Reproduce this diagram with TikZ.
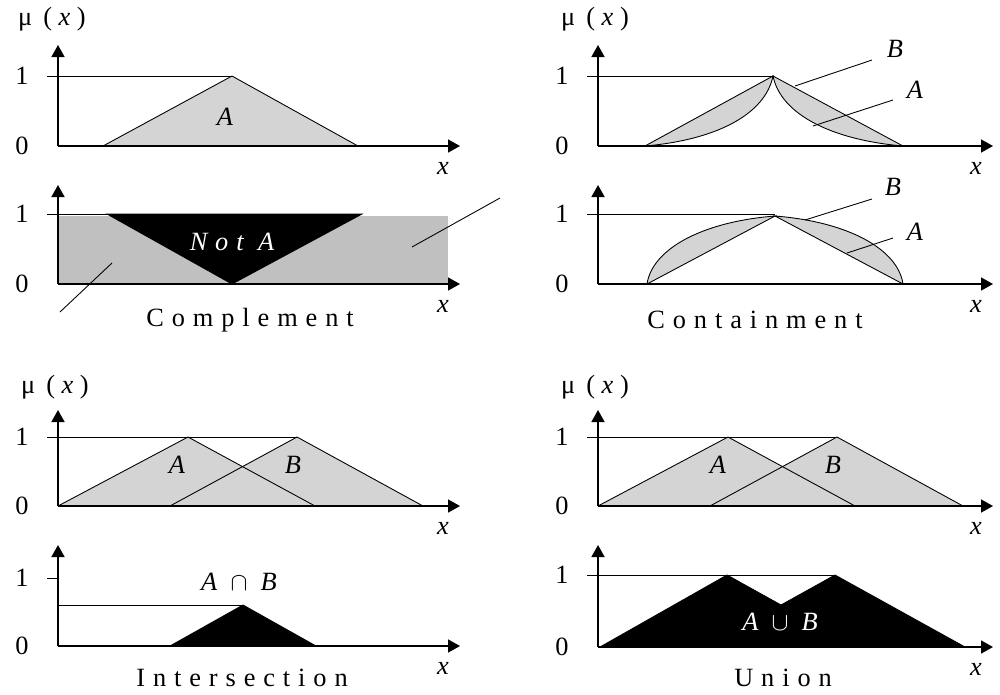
\documentclass[tikz,border=0pt]{standalone}
\usepackage{fontspec}
\setmainfont{Liberation Serif}
\newfontfamily\spacedfont[LetterSpace=30]{Liberation Serif}
\usepackage{tikz}
\usetikzlibrary{arrows.meta}
\usepackage{xcolor}
\definecolor{setgrey}  {RGB}{212,212,212}
\definecolor{compgrey} {RGB}{192,192,192}
\tikzset{
  axis/.style        = {-{Triangle[length=2.4mm, width=2.6mm]}, line width=0.9pt},
  level line/.style  = {line width=0.5pt},
  set edge/.style    = {line width=0.5pt},
  set area/.style    = {fill=setgrey},
  result area/.style = {fill=black, draw=black, line width=0.5pt},
  pointer/.style     = {line width=0.5pt},
  tick label/.style  = {font=\fontsize{15}{17}\selectfont},
  set label/.style   = {font=\fontsize{15}{17}\selectfont\itshape},
  mu label/.style    = {font=\fontsize{15}{17}\selectfont},
  caption/.style     = {font=\fontsize{15}{17}\spacedfont},
}

\begin{document}
\begin{tikzpicture}[x=0.02cm, y=-0.02cm, font=\fontsize{15}{17}\selectfont]

  \useasboundingbox (0,0) rectangle (1000,694);

  % ── shaded sets (drawn first, axes go on top) ─────────────────────────────
  % panel 1: fuzzy set A
  \fill[set area] (103,146) -- (232,76) -- (358,146) -- cycle;
  \draw[set edge] (103,146) -- (232,76) -- (358,146);

  % panel 2: complement
  \fill[compgrey] (58,216) rectangle (448,284);
  \fill[result area] (107,214) -- (362,214) -- (232,284) -- cycle;

  % panel 3: containment, A inside B
  \filldraw[set area, set edge] (645,146) -- (773,76)
    .. controls (765,115) and (715,140) .. (645,146) -- cycle;
  \filldraw[set area, set edge] (773,76) -- (903,146)
    .. controls (833,140) and (781,115) .. (773,76) -- cycle;

  % panel 4: containment, B bulging over A
  \filldraw[set area, set edge] (647,284) -- (775,216)
    .. controls (700,222) and (652,250) .. (647,284) -- cycle;
  \filldraw[set area, set edge] (775,216) -- (903,284)
    .. controls (898,250) and (850,222) .. (775,216) -- cycle;

  % panels 5 and 7: two overlapping triangles
  \foreach \dx/\yz/\yo in {0/506/437, 540/506/437}{
    \fill[set area] (58+\dx,\yz) -- (188+\dx,\yo) -- (315+\dx,\yz) -- cycle;
    \fill[set area] (170+\dx,\yz) -- (297+\dx,\yo) -- (423+\dx,\yz) -- cycle;
    \draw[set edge] (58+\dx,\yz) -- (188+\dx,\yo) -- (315+\dx,\yz);
    \draw[set edge] (170+\dx,\yz) -- (297+\dx,\yo) -- (423+\dx,\yz);
  }

  % panel 6: intersection
  \fill[result area] (170,646) -- (243,605) -- (316,646) -- cycle;

  % panel 8: union
  \fill[result area] (600,647) -- (727,575) -- (781,605) -- (835,575)
    -- (965,647) -- cycle;

  % ── axes for all eight panels ─────────────────────────────────────────────
  \foreach \ox/\yzero/\yone/\ytop/\xend/\id in
      {58/146/76/45/460/1,   58/284/214/185/460/2,
       598/146/76/45/993/3,  598/284/214/185/993/4,
       58/506/437/410/460/5, 58/646/578/545/460/6,
       598/506/437/410/993/7, 598/647/575/545/993/8}{
    \draw[axis] (\ox,\yzero) -- (\ox,\ytop);
    \draw[axis] (\ox,\yzero) -- (\xend,\yzero);
    \node[tick label] (zero\id) at (\ox-36,\yzero) {0};
    \node[tick label] (one\id)  at (\ox-36,\yone)  {1};
    \node[set label]  (xlab\id) at (\xend-17,\yzero+22) {x};
  }

  % μ(x) over the upper axis of each pair
  \foreach \mx/\my/\id in {52/19/1, 595/19/3, 55/387/5, 595/387/7}{
    \node[mu label] (mu\id) at (\mx,\my) {μ\, ( \textit{x} )};
  }

  % ── level-one lines ───────────────────────────────────────────────────────
  \draw[level line] (47,76)  -- (232,76);
  \draw[level line] (47,214) -- (362,214);
  \draw[level line] (587,76) -- (773,76);
  \draw[level line] (587,214) -- (775,214);
  \draw[level line] (47,437) -- (297,437);
  \draw[level line] (47,578) -- (58,578);
  \draw[level line] (58,605) -- (243,605);
  \draw[level line] (587,437) -- (835,437);
  \draw[level line] (587,575) -- (835,575);

  % ── set labels ────────────────────────────────────────────────────────────
  \node[set label] (setA1) at (225,117) {A};
  \node[set label] (setA5) at (177,465) {A};
  \node[set label] (setB5) at (293,465) {B};
  \node[set label] (setA7) at (718,465) {A};
  \node[set label] (setB7) at (833,465) {B};

  \node[set label, white, font=\fontsize{15}{17}\spacedfont\itshape]
    (notA) at (232,242) {Not A};
  \node[white] (union) at (780,622)
    {\textit{A}\enspace$\cup$\enspace\textit{B}};
  \node (inter) at (239,582)
    {\textit{A}\enspace$\cap$\enspace\textit{B}};

  % containment labels with pointer lines
  \node[set label] (setB3) at (895,49)  {B};
  \node[set label] (setA3) at (915,90)  {A};
  \node[set label] (setB4) at (893,187) {B};
  \node[set label] (setA4) at (915,232) {A};
  \coordinate (pB3a) at (872,60);  \coordinate (pB3b) at (795,86);
  \coordinate (pA3a) at (893,100); \coordinate (pA3b) at (813,126);
  \coordinate (pB4a) at (872,199); \coordinate (pB4b) at (805,220);
  \coordinate (pA4a) at (893,238); \coordinate (pA4b) at (847,253);
  \draw[pointer] (pB3a) -- (pB3b);
  \draw[pointer] (pA3a) -- (pA3b);
  \draw[pointer] (pB4a) -- (pB4b);
  \draw[pointer] (pA4a) -- (pA4b);

  % complement pointer lines
  \coordinate (pC1a) at (500,198); \coordinate (pC1b) at (412,247);
  \coordinate (pC2a) at (60,312);  \coordinate (pC2b) at (112,263);
  \draw[pointer] (pC1a) -- (pC1b);
  \draw[pointer] (pC2a) -- (pC2b);

  % ── captions ──────────────────────────────────────────────────────────────
  \node[caption] (capcomp)  at (250,320) {Complement};
  \node[caption] (capcont)  at (755,320) {Containment};
  \node[caption] (capinter) at (242,678) {Intersection};
  \node[caption] (capunion) at (783,678) {Union};

\end{tikzpicture}
\end{document}
